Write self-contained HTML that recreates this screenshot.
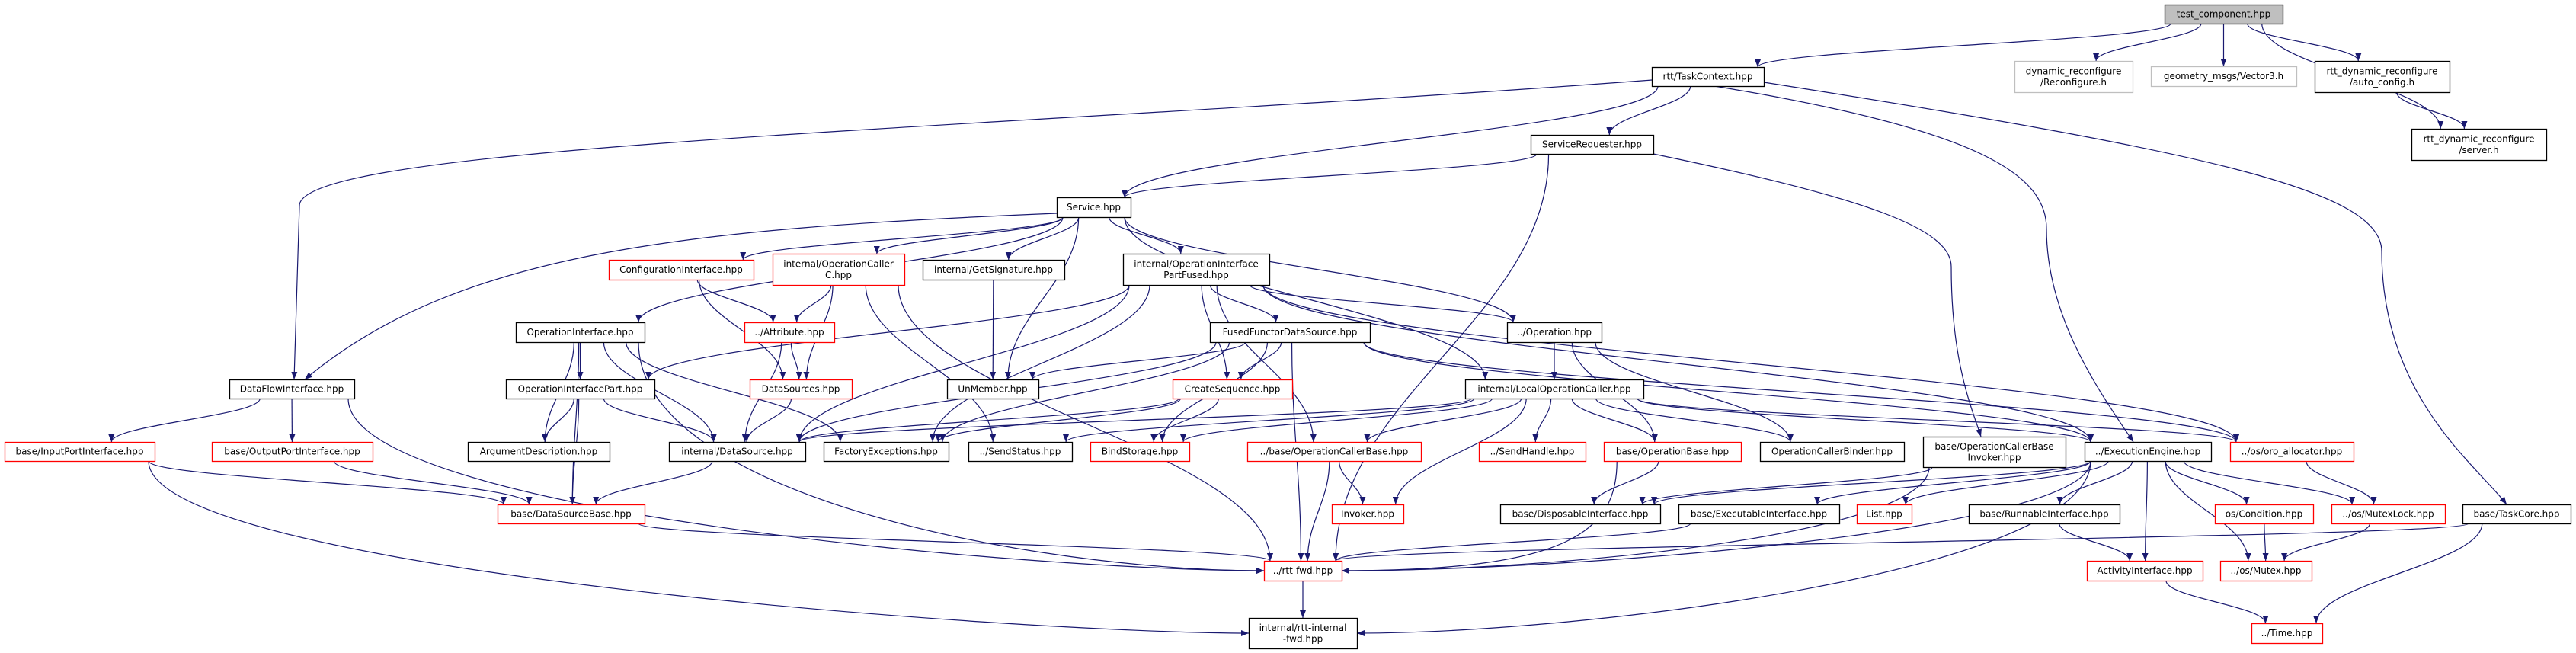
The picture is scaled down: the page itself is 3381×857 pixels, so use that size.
<!DOCTYPE html>
<html><head><meta charset="utf-8">
<style>
html,body{margin:0;padding:0;background:#fff;}
svg{display:block;}
text{font-family:"DejaVu Sans","Liberation Sans",sans-serif;font-size:12px;fill:#000;}
</style></head>
<body>
<svg id="g" xmlns="http://www.w3.org/2000/svg" width="3381" height="857" viewBox="0 0 3381 857">
<defs>
<marker id="a" viewBox="0 0 10 8" refX="10" refY="4" markerWidth="10" markerHeight="8" markerUnits="userSpaceOnUse" orient="auto">
<path d="M0,0 L10,4 L0,8 z" fill="#191970"/>
</marker>
</defs>
<g id="edges" fill="none" stroke="#191970" stroke-width="1.2"></g>
<g id="nodes"></g>
</svg>
<script>
var N={
tc:[2841,6,2996,31,"g",["test_component.hpp"]],
rec:[2644,80,2799,121,"l",["dynamic_reconfigure","/Reconfigure.h"]],
vec:[2823,87,3014,113,"l",["geometry_msgs/Vector3.h"]],
ac:[3038,80,3215,121,"b",["rtt_dynamic_reconfigure","/auto_config.h"]],
srv:[3165,169,3342,210,"b",["rtt_dynamic_reconfigure","/server.h"]],
task:[2168,88,2315,113,"b",["rtt/TaskContext.hpp"]],
sreq:[2009,177,2170,202,"b",["ServiceRequester.hpp"]],
svc:[1387,259,1484,285,"b",["Service.hpp"]],
conf:[799,341,989,367,"r",["ConfigurationInterface.hpp"]],
occ:[1014,333,1187,374,"r",["internal/OperationCaller","C.hpp"]],
gsig:[1211,341,1397,367,"b",["internal/GetSignature.hpp"]],
oipf:[1474,333,1666,374,"b",["internal/OperationInterface","PartFused.hpp"]],
oi:[677,423,846,449,"b",["OperationInterface.hpp"]],
attr:[977,423,1095,449,"r",["../Attribute.hpp"]],
ffds:[1588,423,1798,449,"b",["FusedFunctorDataSource.hpp"]],
op:[1978,423,2102,449,"b",["../Operation.hpp"]],
dfi:[301,498,465,523,"b",["DataFlowInterface.hpp"]],
oip:[664,498,859,523,"b",["OperationInterfacePart.hpp"]],
dss:[984,498,1118,523,"r",["DataSources.hpp"]],
unm:[1243,498,1363,523,"b",["UnMember.hpp"]],
cseq:[1539,498,1696,523,"r",["CreateSequence.hpp"]],
loc:[1923,498,2157,523,"b",["internal/LocalOperationCaller.hpp"]],
ipi:[6,580,203,605,"r",["base/InputPortInterface.hpp"]],
opi:[278,580,489,605,"r",["base/OutputPortInterface.hpp"]],
arg:[614,580,800,605,"b",["ArgumentDescription.hpp"]],
ids:[878,580,1057,605,"b",["internal/DataSource.hpp"]],
fex:[1081,580,1245,605,"b",["FactoryExceptions.hpp"]],
sst:[1271,580,1407,605,"b",["../SendStatus.hpp"]],
bst:[1431,580,1561,605,"r",["BindStorage.hpp"]],
ocb:[1637,580,1865,605,"r",["../base/OperationCallerBase.hpp"]],
sh:[1941,580,2081,605,"r",["../SendHandle.hpp"]],
ob:[2105,580,2285,605,"r",["base/OperationBase.hpp"]],
ocbind:[2310,580,2499,605,"b",["OperationCallerBinder.hpp"]],
ocbi:[2524,573,2711,613,"b",["base/OperationCallerBase","Invoker.hpp"]],
ee:[2736,580,2902,605,"b",["../ExecutionEngine.hpp"]],
oro:[2927,580,3089,605,"r",["../os/oro_allocator.hpp"]],
dsb:[653,662,846,687,"r",["base/DataSourceBase.hpp"]],
inv:[1748,662,1842,687,"r",["Invoker.hpp"]],
disp:[1969,662,2179,687,"b",["base/DisposableInterface.hpp"]],
exe:[2203,662,2414,687,"b",["base/ExecutableInterface.hpp"]],
list:[2437,662,2509,687,"r",["List.hpp"]],
run:[2584,662,2782,687,"b",["base/RunnableInterface.hpp"]],
cond:[2907,662,3036,687,"r",["os/Condition.hpp"]],
ml:[3060,662,3209,687,"r",["../os/MutexLock.hpp"]],
tcore:[3232,662,3374,687,"b",["base/TaskCore.hpp"]],
fwd:[1659,736,1761,762,"r",["../rtt-fwd.hpp"]],
act:[2739,736,2891,762,"r",["ActivityInterface.hpp"]],
mtx:[2914,736,3034,762,"r",["../os/Mutex.hpp"]],
ifwd:[1639,811,1781,851,"b",["internal/rtt-internal","-fwd.hpp"]],
time:[2955,818,3048,844,"r",["../Time.hpp"]]
};
var SP={
"task dfi":"M2168,105 C1300,170 393,190 393,270 L386,498",
"svc dfi":"M1387,280 C900,300 600,330 400,498",
"task ee":"M2250,113 C2600,170 2686,230 2686,300 C2686,420 2760,520 2800,580",
"task tcore":"M2315,108 C2900,200 3126,250 3126,330 C3126,520 3250,610 3290,662",
"sreq ocbi":"M2170,202 C2450,260 2561,300 2561,350 C2561,480 2590,540 2600,573"
};
var E="tc task,tc rec,tc vec,tc ac,tc srv,ac srv,task dfi,task svc,task sreq,task ee,task tcore,sreq svc,sreq ocbi,sreq fwd,svc conf,svc occ,svc gsig,svc oipf,svc dfi,svc oi,svc unm,svc op,svc loc,occ attr,occ dss,occ sst,occ fwd,conf attr,conf dss,gsig unm,oipf oip,oipf ffds,oipf cseq,oipf ids,oipf fex,oipf op,oipf ocb,oipf ee,oipf oro,ffds unm,ffds cseq,ffds ids,ffds bst,ffds fex,ffds fwd,ffds ee,ffds oro,op loc,op ob,op ocbind,loc ids,loc sst,loc bst,loc ocb,loc sh,loc ob,loc inv,loc ocbind,loc ee,loc oro,oi oip,oi arg,oi ids,oi dsb,oi fex,oi fwd,attr dss,attr ids,dfi ipi,dfi opi,dfi fwd,oip arg,oip ids,oip dsb,dss ids,ipi dsb,ipi ifwd,opi dsb,ids dsb,dsb fwd,cseq bst,cseq fex,cseq ids,ocb inv,ocb fwd,ob disp,ob fwd,ocbi disp,ocbi fwd,ee exe,ee list,ee run,ee act,ee mtx,ee cond,ee ml,ee disp,ee fwd,ee ifwd,oro ml,exe fwd,run act,cond mtx,ml mtx,tcore fwd,tcore time,act time,fwd ifwd";
var ns="http://www.w3.org/2000/svg";
var eg=document.getElementById("edges"),ng=document.getElementById("nodes");
E.split(",").forEach(function(p){
 var tk=p.split(" ")[1];
 var s=N[p.split(" ")[0]],t=N[tk];
 var scx=(s[0]+s[2])/2,tcx=(t[0]+t[2])/2;
 var sx=Math.max(s[0]+8,Math.min(s[2]-8,scx+(tcx-scx)*0.15));
 var sy=s[3];
 var tx,ty,d;
 var dy=t[1]-sy,dx=tcx-sx;
 if(SP[p]){d=SP[p];}
 else if((tk=="fwd"||tk=="ifwd")&&Math.abs(dx)>2.5*Math.abs(dy)&&dy>50){
  ty=(t[1]+t[3])/2; tx=dx>0?t[0]:t[2];
  d="M"+sx+","+sy+" C"+sx+","+(sy+dy*0.7)+" "+(tx-(dx>0?300:-300))+","+ty+" "+tx+","+ty;
 } else {
  tx=Math.max(t[0]+8,Math.min(t[2]-8,tcx-(tcx-scx)*0.15)); ty=t[1];
  d="M"+sx+","+sy+" C"+sx+","+(sy+dy*0.4)+" "+tx+","+(ty-dy*0.4)+" "+tx+","+ty;
 }
 var e=document.createElementNS(ns,"path");e.setAttribute("d",d);e.setAttribute("marker-end","url(#a)");eg.appendChild(e);
});
for(var k in N){var n=N[k];
 var r=document.createElementNS(ns,"rect");
 r.setAttribute("x",n[0]+0.5);r.setAttribute("y",n[1]+0.5);r.setAttribute("width",n[2]-n[0]);r.setAttribute("height",n[3]-n[1]);
 var col={g:"#000",l:"#bfbfbf",b:"#000",r:"#ff0000"}[n[4]];
 r.setAttribute("fill",n[4]=="g"?"#bfbfbf":"#fff");r.setAttribute("stroke",col);r.setAttribute("stroke-width","1.3");
 ng.appendChild(r);
 var cx=(n[0]+n[2])/2,cy=(n[1]+n[3])/2,L=n[5];
 L.forEach(function(t,i){var tt=document.createElementNS(ns,"text");
  tt.setAttribute("x",cx);tt.setAttribute("y",cy+4+(i-(L.length-1)/2)*14.5);tt.setAttribute("text-anchor","middle");
  tt.textContent=t;ng.appendChild(tt);});
}
</script>
</body></html>
